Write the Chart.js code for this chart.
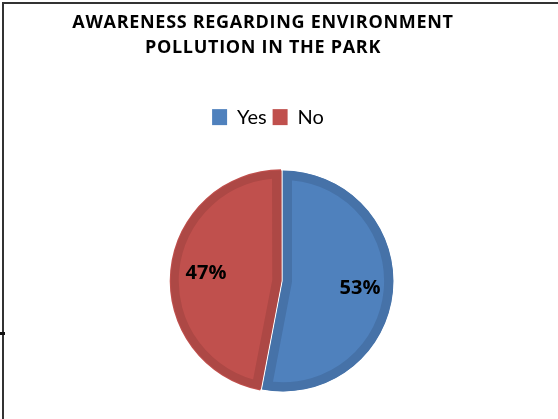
<!DOCTYPE html>
<html>
<head>
<meta charset="utf-8">
<script src="https://cdn.jsdelivr.net/npm/chart.js@4.4.1/dist/chart.umd.min.js"></script>
<style>
    html, body { margin: 0; padding: 0; background: #fff; }
    #wrap { position: relative; width: 558px; height: 419px; overflow: hidden; }
    #frame { position: absolute; left: 2px; top: 2px; width: 600px; height: 500px;
             border-left: 2px solid #333; border-top: 2px solid #333; }
    #dash { position: absolute; left: 0; top: 332px; width: 5px; height: 3px; background: #111; }
    canvas { position: absolute; left: 0; top: 0; }
</style>
</head>
<body>
<div id="wrap">
    <div id="frame"></div>
    <div id="dash"></div>
    <canvas id="chart" width="558" height="419"></canvas>
</div>
<script>
// chart data
const categories = ['Yes', 'No'];
const awareness = [53, 47];
const sliceColors = ['#4F81BD', '#C0504D'];
const sliceBorders = ['#4672A8', '#AD4845'];
const titleLines = ['AWARENESS REGARDING ENVIRONMENT', 'POLLUTION IN THE PARK'];

// draw the % text inside each slice
const pctLabels = {
    id: 'pctLabels',
    afterDatasetsDraw(chart) {
        const ctx = chart.ctx;
        const meta = chart.getDatasetMeta(0);
        const total = awareness.reduce((a, b) => a + b, 0);
        ctx.save();
        ctx.font = 'bold 20px "Open Sans"';
        ctx.fillStyle = '#000';
        ctx.textAlign = 'center';
        ctx.textBaseline = 'middle';
        meta.data.forEach((arc, i) => {
            const p = arc.getProps(['x', 'y', 'startAngle', 'endAngle', 'outerRadius'], true);
            const mid = (p.startAngle + p.endAngle) / 2;
            const r = p.outerRadius * 0.7;
            const text = Math.round(awareness[i] / total * 100) + '%';
            ctx.fillText(text, p.x + Math.cos(mid) * r, p.y + Math.sin(mid) * r);
        });
        ctx.restore();
    }
};

// extra room under the legend, letter spacing on the title,
// and title/legend sit a little left of the pie like in the original
const layoutTweaks = {
    id: 'layoutTweaks',
    beforeInit(chart) {
        const legendFit = chart.legend.fit;
        chart.legend.fit = function () {
            legendFit.call(this);
            this.height += 30;
        };
        const legendDraw = chart.legend.draw;
        chart.legend.draw = function () {
            this.ctx.save();
            this.ctx.translate(-15, 0);
            legendDraw.call(this);
            this.ctx.restore();
        };
        const titleDraw = chart.titleBlock.draw;
        chart.titleBlock.draw = function () {
            const ctx = this.ctx;
            ctx.save();
            ctx.translate(-20, 0);
            ctx.letterSpacing = '0.7px';
            titleDraw.call(this);
            ctx.restore();
        };
    }
};

new Chart(document.getElementById('chart').getContext('2d'), {
    type: 'pie',
    data: {
        labels: categories,
        datasets: [{
            data: awareness,
            backgroundColor: sliceColors,
            borderColor: sliceBorders,
            borderWidth: 9,
            borderAlign: 'inner',
            offset: [0, 7]
        }]
    },
    options: {
        responsive: false,
        animation: false,
        layout: {
            padding: { left: 8, right: 0, top: 0, bottom: 24 }
        },
        plugins: {
            title: {
                display: true,
                text: titleLines,
                color: '#000',
                font: { family: 'Open Sans', size: 18, weight: 'bold', lineHeight: 1.42 },
                padding: { top: 10, bottom: 40 }
            },
            legend: {
                position: 'top',
                labels: {
                    color: '#000',
                    font: { family: 'Lato', size: 20 },
                    boxWidth: 15,
                    boxHeight: 16,
                    padding: 6,
                    generateLabels: (chart) => categories.map((c, i) => ({
                        text: c,
                        fillStyle: sliceColors[i],
                        strokeStyle: sliceColors[i],
                        lineWidth: 0,
                        fontColor: '#000',
                        index: i
                    }))
                }
            },
            tooltip: { enabled: false }
        }
    },
    plugins: [layoutTweaks, pctLabels]
});
</script>
</body>
</html>
